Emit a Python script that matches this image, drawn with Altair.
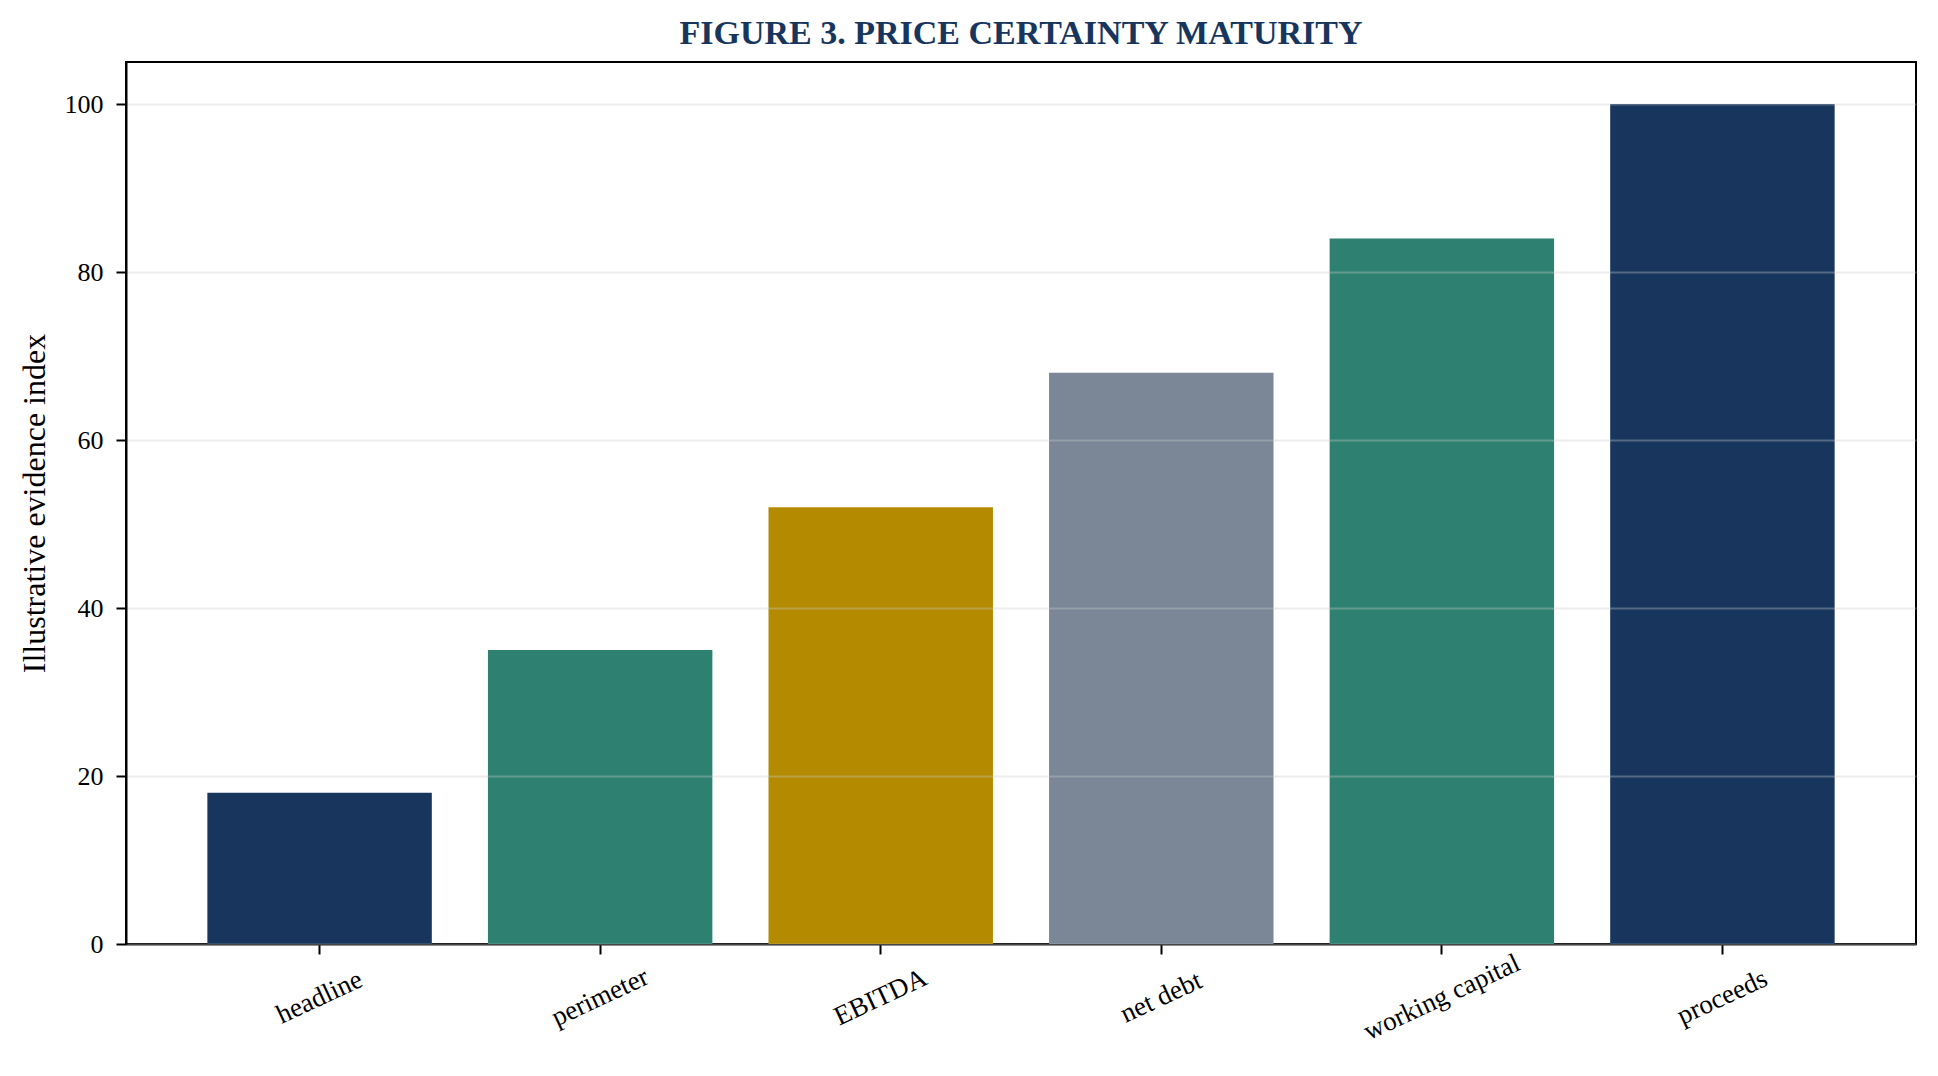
import altair as alt
import pandas as pd

categories = ["headline", "perimeter", "EBITDA", "net debt", "working capital", "proceeds"]
values = [18, 35, 52, 68, 84, 100]
colors = ["#18365D", "#2E8070", "#B38A00", "#7B8796", "#2E8070", "#18365D"]
y_ticks = [0, 20, 40, 60, 80, 100]

df = pd.DataFrame({"stage": categories, "value": values})

FONT = "Liberation Serif"

chart = (
    alt.Chart(df)
    .mark_bar()
    .encode(
        x=alt.X(
            "stage:N",
            sort=categories,
            scale=alt.Scale(paddingInner=0.2, paddingOuter=0.29),
            axis=alt.Axis(
                title=None,
                labelAngle=-25,
                labelAlign="center",
                labelBaseline="middle",
                labelPadding=43,
                labelFontSize=27,
                labelOverlap=False,
                grid=False,
                tickSize=10,
                tickWidth=2,
                domainWidth=2,
            ),
        ),
        y=alt.Y(
            "value:Q",
            scale=alt.Scale(domain=[0, 105], nice=False),
            axis=alt.Axis(
                title="Illustrative evidence index",
                values=y_ticks,
                labelFontSize=26,
                labelPadding=13,
                tickSize=10,
                tickWidth=2,
                domainWidth=2,
                titleFontSize=32,
                titleFontWeight="normal",
                titleX=-82,
                titleY=441,
                titleAngle=-90,
                titleBaseline="alphabetic",
                titleAlign="center",
                grid=True,
                gridColor="#cccccc",
                gridOpacity=0.35,
                gridWidth=2,
                zindex=1,
            ),
        ),
        color=alt.Color(
            "stage:N",
            scale=alt.Scale(domain=categories, range=colors),
            legend=None,
        ),
    )
    .properties(
        width=1790,
        height=882,
        autosize=alt.AutoSizeParams(type="none"),
        padding={"left": 118, "top": 54, "right": 14, "bottom": 124},
        title=alt.TitleParams(
            "FIGURE 3. PRICE CERTAINTY MATURITY",
            font=FONT,
            fontSize=34,
            fontWeight="bold",
            color="#18365D",
            anchor="middle",
            offset=11,
        ),
    )
    .configure(font=FONT)
    .configure_axis(
        labelFont=FONT,
        titleFont=FONT,
        labelColor="black",
        titleColor="black",
        domainColor="black",
        tickColor="black",
    )
    .configure_view(stroke="black", strokeWidth=2)
)

chart.save("out.html", embed_options={"renderer": "svg", "actions": False})
